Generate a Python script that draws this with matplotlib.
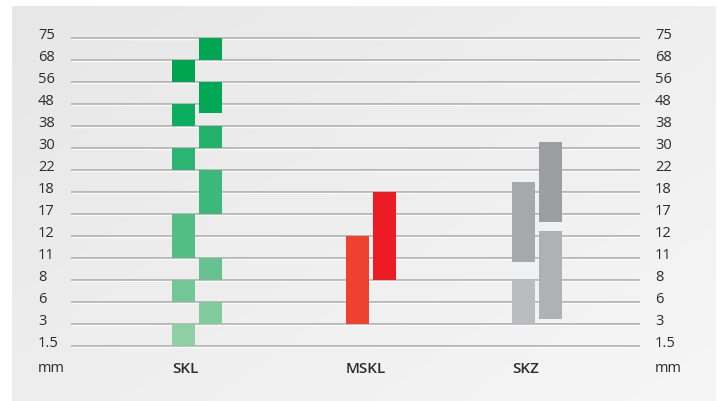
import numpy as np
import matplotlib
matplotlib.use("Agg")
import matplotlib.pyplot as plt
from matplotlib.transforms import blended_transform_factory

plt.rcParams['font.family'] = ['Open Sans', 'DejaVu Sans']

# Size scale (mm), bottom to top; bars span positions on this scale
sizes = ["1.5", "3", "6", "8", "11", "12", "17", "18", "22", "30", "38", "48", "56", "68", "75"]
unit = "mm"
groups = ["SKL", "MSKL", "SKZ"]

# (bottom, top) ranges in scale positions, per column
skl_left = [(0, 1), (2, 3), (4, 6), (8, 9), (10, 11), (12, 13)]
skl_right = [(1, 2), (3, 4), (6, 8), (9, 10), (10.6, 12), (13, 14)]
mskl_left = [(1, 5)]
mskl_right = [(3, 7)]
skz_left = [(1, 3), (3.8, 7.47)]
skz_right = [(1.25, 5.24), (5.62, 9.29)]

skl_left_colors = ["#8ecfa4", "#73c796", "#52be84", "#2bb573", "#0bae5e", "#00a551"]
skl_right_colors = ["#82cb9c", "#66c28f", "#3bb87a", "#22b26a", "#00a855", "#00a651"]
mskl_left_colors = ["#ee4130"]
mskl_right_colors = ["#ed1c24"]
skz_left_colors = ["#bbbcbf", "#a7a8ab"]
skz_right_colors = ["#b0b1b4", "#9d9ea2"]

W, H = 725, 402
fig = plt.figure(figsize=(W / 100, H / 100), dpi=100)
fig.patch.set_facecolor("white")

# Pixel-space backdrop axes
bg = fig.add_axes([0, 0, 1, 1])
bg.set_xlim(0, W)
bg.set_ylim(H, 0)
bg.axis("off")
gx, gy = np.meshgrid(np.linspace(0, 1, 200), np.linspace(0, 1, 120))
grad = 0.55 * gx + 0.45 * gy
c0 = np.array([0xe7, 0xe7, 0xe7]) / 255
c1 = np.array([0xf6, 0xf6, 0xf6]) / 255
img = c0[None, None, :] + (c1 - c0)[None, None, :] * grad[:, :, None]
bg.imshow(img, extent=[12, 716, H, 7], aspect="auto", interpolation="bilinear", zorder=0)
bg.set_xlim(0, W)
bg.set_ylim(H, 0)

# Main plotting axes
x0, x1, ytop, ybot = 72, 639, 39, 347
ax = fig.add_axes([x0 / W, 1 - ybot / H, (x1 - x0) / W, (ybot - ytop) / H])
ax.set_xlim(0, x1 - x0)
ax.set_ylim(0, len(sizes) - 1)
ax.patch.set_alpha(0)
ax.axis("off")

# Horizontal rules with a soft highlight underneath
for i in range(len(sizes)):
    ax.axhline(i, color="#b8b8b8", lw=1.4, zorder=1, clip_on=False)
    ax.plot([0, x1 - x0], [i - 0.05, i - 0.05], color="white", lw=0.9, alpha=0.8, zorder=1, clip_on=False)

bar_w = 23
group_x = [125, 299, 465]
offset = 13.5
columns = [
    (group_x[0] - offset, skl_left, skl_left_colors),
    (group_x[0] + offset, skl_right, skl_right_colors),
    (group_x[1] - offset, mskl_left, mskl_left_colors),
    (group_x[1] + offset, mskl_right, mskl_right_colors),
    (group_x[2] - offset, skz_left, skz_left_colors),
    (group_x[2] + offset, skz_right, skz_right_colors),
]
for xc, ranges, cols in columns:
    for (lo, hi), c in zip(ranges, cols):
        ax.bar(xc, hi - lo, bottom=lo, width=bar_w, color=c, linewidth=0, zorder=3)

# Scale labels on both sides
tr = blended_transform_factory(bg.transData, ax.transData)
txt_color = "#2b2b2b"
for i, s in enumerate(sizes):
    ax.text(38, i, s, transform=tr, ha="left", va="baseline", fontsize=10.5, color=txt_color)
    ax.text(655, i, s, transform=tr, ha="left", va="baseline", fontsize=10.5, color=txt_color)
for xp in (38, 655):
    bg.text(xp, 369, unit, ha="left", va="center", fontsize=10.5, color=txt_color)

# Group labels aligned with the left column of each group
for gxp, name in zip(group_x, groups):
    left_edge = x0 + gxp - offset - bar_w / 2
    bg.text(left_edge, 369, name, ha="left", va="center", fontsize=11,
            fontweight="semibold", color=txt_color)

fig.savefig("out.png", dpi=100)
